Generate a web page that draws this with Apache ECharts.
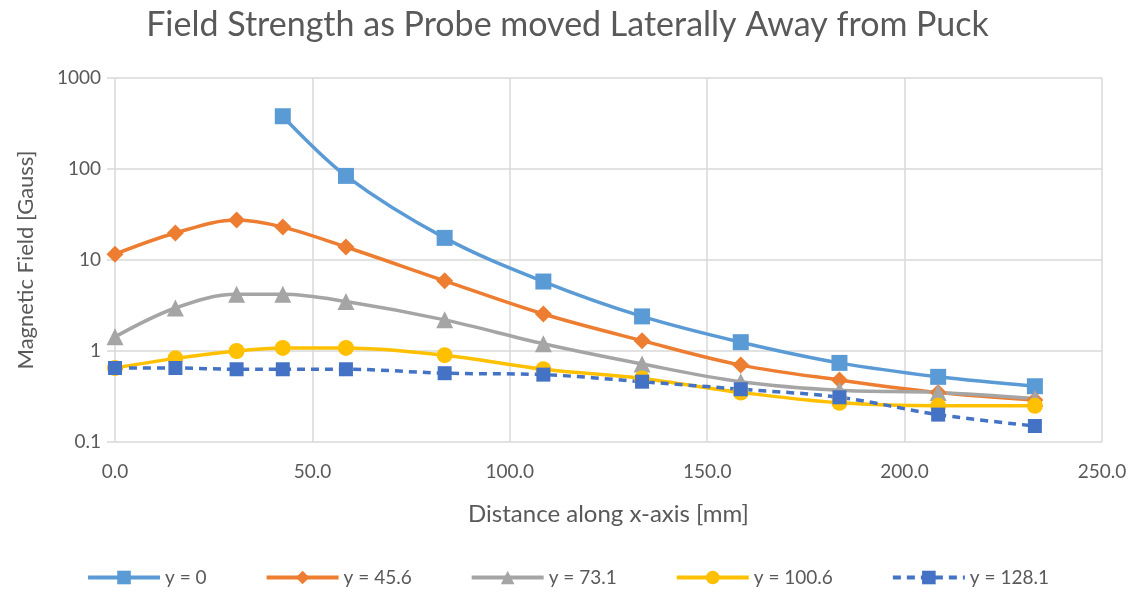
<!DOCTYPE html>
<html>
<head>
<meta charset="utf-8">
<script src="https://cdn.jsdelivr.net/npm/echarts@6/dist/echarts.min.js"></script>
<style>html,body{margin:0;padding:0;background:#fff;}#c{width:1135px;height:596px;}</style>
</head>
<body>
<div id="c"></div>
<script>
var xValues = [0, 15.3, 30.8, 42.5, 58.5, 83.5, 108.5, 133.5, 158.5, 183.5, 208.5, 233.0];
var seriesNames = ['y = 0', 'y = 45.6', 'y = 73.1', 'y = 100.6', 'y = 128.1'];
var y0    = [null, null, null, 380, 84, 17.5, 5.8, 2.4, 1.25, 0.74, 0.52, 0.41];
var y45_6 = [11.6, 19.8, 27.5, 23, 13.9, 5.9, 2.55, 1.3, 0.70, 0.48, 0.35, 0.29];
var y73_1 = [1.43, 2.97, 4.2, 4.2, 3.5, 2.2, 1.2, 0.72, 0.46, 0.37, 0.35, 0.30];
var y100_6 = [0.65, 0.83, 1.0, 1.08, 1.08, 0.9, 0.63, 0.50, 0.35, 0.27, 0.25, 0.25];
var y128_1 = [0.65, 0.65, 0.63, 0.63, 0.63, 0.57, 0.55, 0.46, 0.38, 0.31, 0.20, 0.15];
var yTicks = [0.1, 1, 10, 100, 1000];

function pairs(arr) {
  var out = [];
  for (var i = 0; i < xValues.length; i++) if (arr[i] != null) out.push([xValues[i], arr[i]]);
  return out;
}
var colors = ['#5b9bd5', '#ed7d31', '#a5a5a5', '#ffc000', '#4472c4'];
var symbols = ['rect', 'diamond', 'triangle', 'circle', 'rect'];
var sizes = [16, 17, 17, 16, 14];
var data = [y0, y45_6, y73_1, y100_6, y128_1];
var font = 'Lato, "Open Sans", sans-serif';

var series = data.map(function (d, i) {
  return {
    name: seriesNames[i],
    type: 'line',
    data: pairs(d),
    smooth: 0.35,
    symbol: symbols[i],
    symbolSize: sizes[i],
    showAllSymbol: true,
    itemStyle: { color: colors[i] },
    lineStyle: { color: colors[i], width: 3.5, type: i === 4 ? [8, 6] : 'solid' }
  };
});

var chart = echarts.init(document.getElementById('c'));
chart.setOption({
  animation: false,
  title: {
    text: 'Field Strength as Probe moved Laterally Away from Puck',
    left: 'center', top: 3,
    textStyle: { fontFamily: font, fontSize: 34, fontWeight: 'normal', color: '#595959' }
  },
  legend: {
    bottom: 4, left: 'center',
    itemWidth: 72, itemHeight: 17, itemGap: 58,
    textStyle: { fontFamily: font, fontSize: 19, color: '#595959' },
    lineStyle: { width: 4 },
    data: seriesNames
  },
  grid: { left: 115, right: 33, top: 78, bottom: 154 },
  xAxis: {
    type: 'value', min: 0, max: 250, interval: 50,
    name: 'Distance along x-axis [mm]', nameLocation: 'middle', nameGap: 60,
    nameTextStyle: { fontFamily: font, fontSize: 24, color: '#595959' },
    axisLine: { show: false }, axisTick: { show: false },
    axisLabel: { fontFamily: font, fontSize: 19, color: '#595959', margin: 20,
      formatter: function (v) { return v.toFixed(1); } },
    splitLine: { show: true, lineStyle: { color: '#d9d9d9', width: 1.5 } }
  },
  yAxis: {
    type: 'log', logBase: 10, min: 0.1, max: 1000,
    name: 'Magnetic Field [Gauss]', nameLocation: 'middle', nameGap: 78,
    nameTextStyle: { fontFamily: font, fontSize: 22, color: '#595959' },
    axisLine: { show: false },
    axisTick: { show: true, length: 8, inside: false, lineStyle: { color: '#d9d9d9', width: 1.5 } },
    minorTick: { show: false },
    axisLabel: { fontFamily: font, fontSize: 19, color: '#595959', margin: 14,
      formatter: function (v) { var t = yTicks.filter(function (k) { return Math.abs(k - v) / k < 1e-6; }); return t.length ? String(t[0]) : String(v); } },
    splitLine: { show: true, lineStyle: { color: '#d9d9d9', width: 1.5 } }
  },
  series: series
});
</script>
</body>
</html>
